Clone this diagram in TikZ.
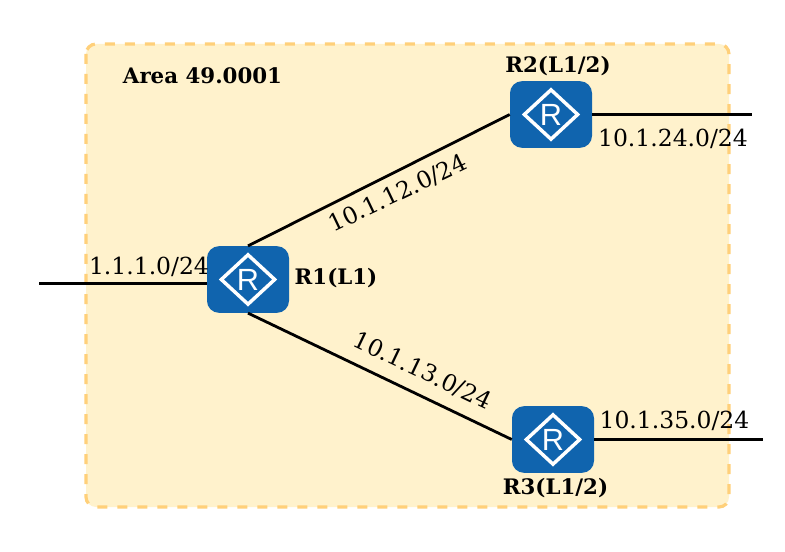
\documentclass[tikz,border=0pt]{standalone}
\usepackage{fontspec}
\setmainfont{DejaVu Serif}
\newfontfamily\routerfont{Liberation Sans}
\usetikzlibrary{calc}
\definecolor{areafill}{HTML}{FFF2CC}
\definecolor{arealine}{HTML}{FFD07A}
\definecolor{routerblue}{HTML}{1064AE}
\tikzset{x=0.75pt,y=-0.75pt,
 router/.style={draw=none,fill=routerblue,rounded corners=9pt,minimum width=61.5pt,minimum height=50pt,inner sep=0pt,
   path picture={
     \draw[white,line width=2.6pt,sharp corners,line join=miter] ($(path picture bounding box.center)+(-20pt,0)$) -- ($(path picture bounding box.center)+(0,-18.5pt)$) -- ($(path picture bounding box.center)+(20pt,0)$) -- ($(path picture bounding box.center)+(0,18.5pt)$) -- cycle;
     \node[white,font=\routerfont\fontsize{23}{23}\selectfont] at (path picture bounding box.center) {R};
   }},
 linkline/.style={draw=black,line width=2.1pt},
 lbl/.style={font=\fontsize{17.6}{20}\selectfont,text=black,inner sep=0pt},
 blbl/.style={font=\bfseries\fontsize{16}{18}\selectfont,text=black,inner sep=0pt},
}
\begin{document}
\begin{tikzpicture}
\useasboundingbox (0,0) rectangle (785,552);
\fill[white] (0,0) rectangle (785,552);
\draw[fill=areafill,draw=arealine,line width=2.4pt,dash pattern=on 7.5pt off 7.5pt,rounded corners=7.5pt] (86,44) rectangle (729,507);
\node[router] (r1) at (248,279.5) {};
\node[router] (r2) at (551,114.5) {};
\node[router] (r3) at (553,439.5) {};
\coordinate (w) at (39,283.5);
\coordinate (e2) at (752,114.5);
\coordinate (e3) at (763,439.5);
\draw[linkline] (w) -- (w -| r1.west);
\draw[linkline] (r2.east |- e2) -- (e2);
\draw[linkline] (r3.east |- e3) -- (e3);
\draw[linkline] (r1.north) -- (r2.west);
\draw[linkline] (r1.south) -- (r3.west);
\node[blbl] (a) at (202.5,76) {Area 49.0001};
\node[blbl] (l2) at (558,66) {R2(L1/2)};
\node[blbl] (l1) at (336,278) {R1(L1)};
\node[blbl] (l3) at (555.5,488) {R3(L1/2)};
\node[lbl] (n1) at (149,266.5) {1.1.1.0/24};
\node[lbl] (n2) at (673,139) {10.1.24.0/24};
\node[lbl] (n3) at (674.5,420.5) {10.1.35.0/24};
\node[lbl,rotate=25.5] (n4) at (398,193.5) {10.1.12.0/24};
\node[lbl,rotate=-25.5] (n5) at (422.5,371) {10.1.13.0/24};
\end{tikzpicture}
\end{document}
